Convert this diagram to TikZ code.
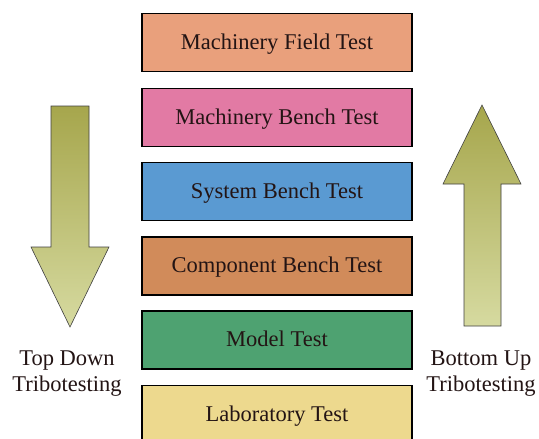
\documentclass[tikz,border=0pt]{standalone}
\usepackage{fontspec}
\setmainfont{Liberation Serif}
\usetikzlibrary{shadings}

\definecolor{fieldc}{HTML}{E9A07C}
\definecolor{mbenchc}{HTML}{E27AA4}
\definecolor{sysc}{HTML}{5A9AD2}
\definecolor{compc}{HTML}{D18B5A}
\definecolor{modelc}{HTML}{4EA271}
\definecolor{labc}{HTML}{EDD98E}
\definecolor{arrowtop}{HTML}{A6A64C}
\definecolor{arrowbot}{HTML}{D6DAA0}
\definecolor{inkc}{HTML}{231414}

\tikzset{
  level/.style={draw=black, line width=1.6pt, minimum width=270pt,
    minimum height=58pt, inner sep=0pt, text=inkc,
    font=\fontsize{22.5pt}{25pt}\selectfont, text height=15.5pt, text depth=2pt},
  sidelabel/.style={align=center, text=inkc,
    font=\fontsize{22.5pt}{26pt}\selectfont},
  bigarrow/.style={draw=black!75, line width=0.6pt,
    top color=arrowtop, bottom color=arrowbot}
}

\begin{document}
\begin{tikzpicture}[x=1pt, y=-1pt]
  \useasboundingbox (0,0) rectangle (539,439);
  \clip (0,0) rectangle (539,439);
  \fill[white] (0,0) rectangle (539,439);

  % test levels, from field down to laboratory
  \node[level, fill=fieldc]  (field)  at (277,42.5)  {Machinery Field Test};
  \node[level, fill=mbenchc] (mbench) at (277,117.5) {Machinery Bench Test};
  \node[level, fill=sysc]    (sys)    at (277,191.5) {System Bench Test};
  \node[level, fill=compc]   (comp)   at (277,266)   {Component Bench Test};
  \node[level, fill=modelc]  (model)  at (277,340)   {Model Test};
  \node[level, fill=labc]    (lab)    at (277,414.5) {Laboratory Test};

  % top-down block arrow
  \path[bigarrow] (51,106) -- (89,106) -- (89,247) -- (109,247) -- (70,327)
    -- (31,247) -- (51,247) -- cycle;
  % bottom-up block arrow
  \path[bigarrow] (482,105) -- (521,184) -- (501,184) -- (501,326) -- (464,326)
    -- (464,184) -- (443,184) -- cycle;

  \node[sidelabel] (topdown)  at (67,374)  {Top Down\\Tribotesting};
  \node[sidelabel] (bottomup) at (481,374) {Bottom Up\\Tribotesting};
\end{tikzpicture}
\end{document}
